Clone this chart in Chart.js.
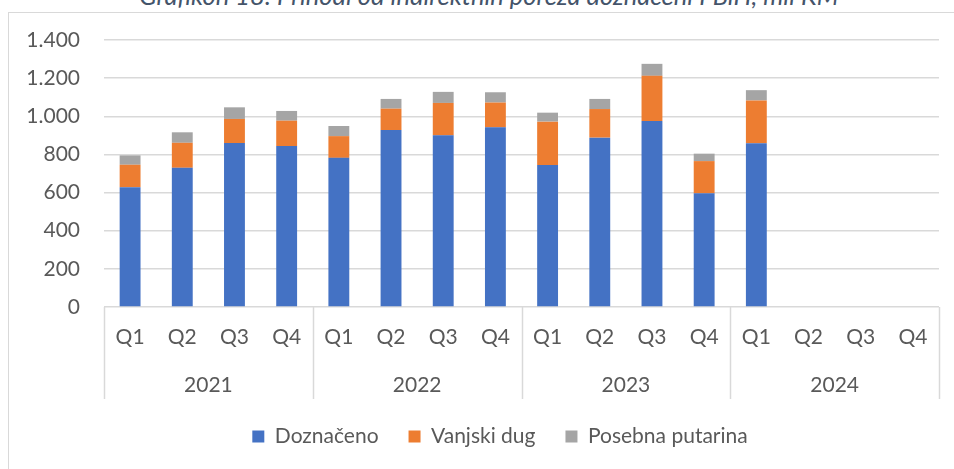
<!DOCTYPE html>
<html>
<head>
<meta charset="utf-8">
<script src="https://cdn.jsdelivr.net/npm/chart.js@4"></script>
<style>
  html, body { margin: 0; padding: 0; background: #fff; overflow: hidden; }
  #wrap { position: relative; width: 954px; height: 469px; overflow: hidden; }
  #box { position: absolute; left: 8px; top: 12px; width: 1000px; height: 500px;
         border-left: 1px solid #d9d9d9; border-top: 1px solid #d9d9d9; }
  #title { position: absolute; left: 0; width: 978px; top: -20px; text-align: center;
           font-family: Lato, sans-serif; font-style: italic; font-size: 25.5px; line-height: 30.6px;
           color: #44546A; white-space: nowrap; }
  canvas { position: absolute; left: 0; top: 0; }
</style>
</head>
<body>
<div id="wrap">
  <div id="title">Grafikon 18: Prihodi od indirektnih poreza doznačeni FBiH, mil KM</div>
  <div id="box"></div>
  <canvas id="c" width="1000" height="469"></canvas>
</div>
<script>
const quarters = ['Q1','Q2','Q3','Q4','Q1','Q2','Q3','Q4','Q1','Q2','Q3','Q4','Q1','Q2','Q3','Q4'];
const years = ['2021','2022','2023','2024'];
const doznaceno = [628, 730, 860, 844, 782, 928, 900, 942, 744, 888, 975, 596, 858, null, null, null];
const vanjskiDug = [118, 131, 126, 133, 114, 112, 170, 130, 228, 150, 237, 169, 225, null, null, null];
const posebnaPutarina = [49, 55, 61, 51, 53, 51, 58, 54, 47, 53, 63, 39, 54, null, null, null];
const yTicks = [0, 200, 400, 600, 800, 1000, 1200, 1400];

const TXT = '#595959';
const GRID = '#d9d9d9';
const FONT = { family: 'Lato, sans-serif', size: 21 };

const separators = {
  id: 'separators',
  afterDraw(chart) {
    const xs = chart.scales.x;
    const ctx = chart.ctx;
    ctx.save();
    ctx.strokeStyle = GRID;
    ctx.lineWidth = 1.5;
    for (let i = 0; i <= quarters.length; i += 4) {
      const px = Math.round(xs.getPixelForValue(i - 0.5)) + 0.5;
      ctx.beginPath();
      ctx.moveTo(px, xs.top);
      ctx.lineTo(px, xs.bottom + 32);
      ctx.stroke();
    }
    ctx.restore();
  }
};

new Chart(document.getElementById('c'), {
  type: 'bar',
  data: {
    labels: quarters,
    datasets: [
      { label: 'Doznačeno', data: doznaceno, backgroundColor: '#4472C4', stack: 's' },
      { label: 'Vanjski dug', data: vanjskiDug, backgroundColor: '#ED7D31', stack: 's' },
      { label: 'Posebna putarina', data: posebnaPutarina, backgroundColor: '#A5A5A5', stack: 's' }
    ]
  },
  options: {
    responsive: false,
    animation: false,
    events: [],
    layout: { padding: { left: 0, right: 0, top: 40, bottom: 12 } },
    datasets: { bar: { barPercentage: 0.4, categoryPercentage: 1.0 } },
    scales: {
      x: {
        stacked: true,
        offset: true,
        grid: { display: false, drawTicks: false },
        border: { display: false },
        ticks: { color: TXT, font: FONT, padding: 18, maxRotation: 0, autoSkip: false },
        afterFit(s) { s.height = 60; }
      },
      x2: {
        type: 'category',
        labels: years,
        position: 'bottom',
        offset: true,
        grid: { display: false, drawTicks: false },
        border: { display: false },
        ticks: { color: TXT, font: { family: 'Lato, sans-serif', size: 21, lineHeight: 1 }, padding: 8, maxRotation: 0 },
        afterFit(s) { s.height = 29; }
      },
      y: {
        stacked: true,
        min: 0,
        max: 1400,
        afterBuildTicks(s) { s.ticks = yTicks.map(v => ({ value: v })); },
        grid: { color: GRID, lineWidth: 1.5, drawTicks: false },
        border: { display: false },
        ticks: {
          color: TXT, font: FONT, padding: 24,
          callback: v => v.toLocaleString('de-DE')
        },
        afterFit(s) { s.width = 104; }
      },
      yRight: {
        type: 'linear',
        position: 'right',
        display: true,
        grid: { display: false, drawTicks: false },
        border: { display: false },
        ticks: { display: false },
        afterFit(s) { s.width = 61; }
      }
    },
    plugins: {
      legend: {
        position: 'bottom',
        labels: { color: TXT, font: FONT, boxWidth: 12, boxHeight: 12, padding: 30 }
      },
      title: { display: false },
      tooltip: { enabled: false }
    }
  },
  plugins: [separators]
});
</script>
</body>
</html>
